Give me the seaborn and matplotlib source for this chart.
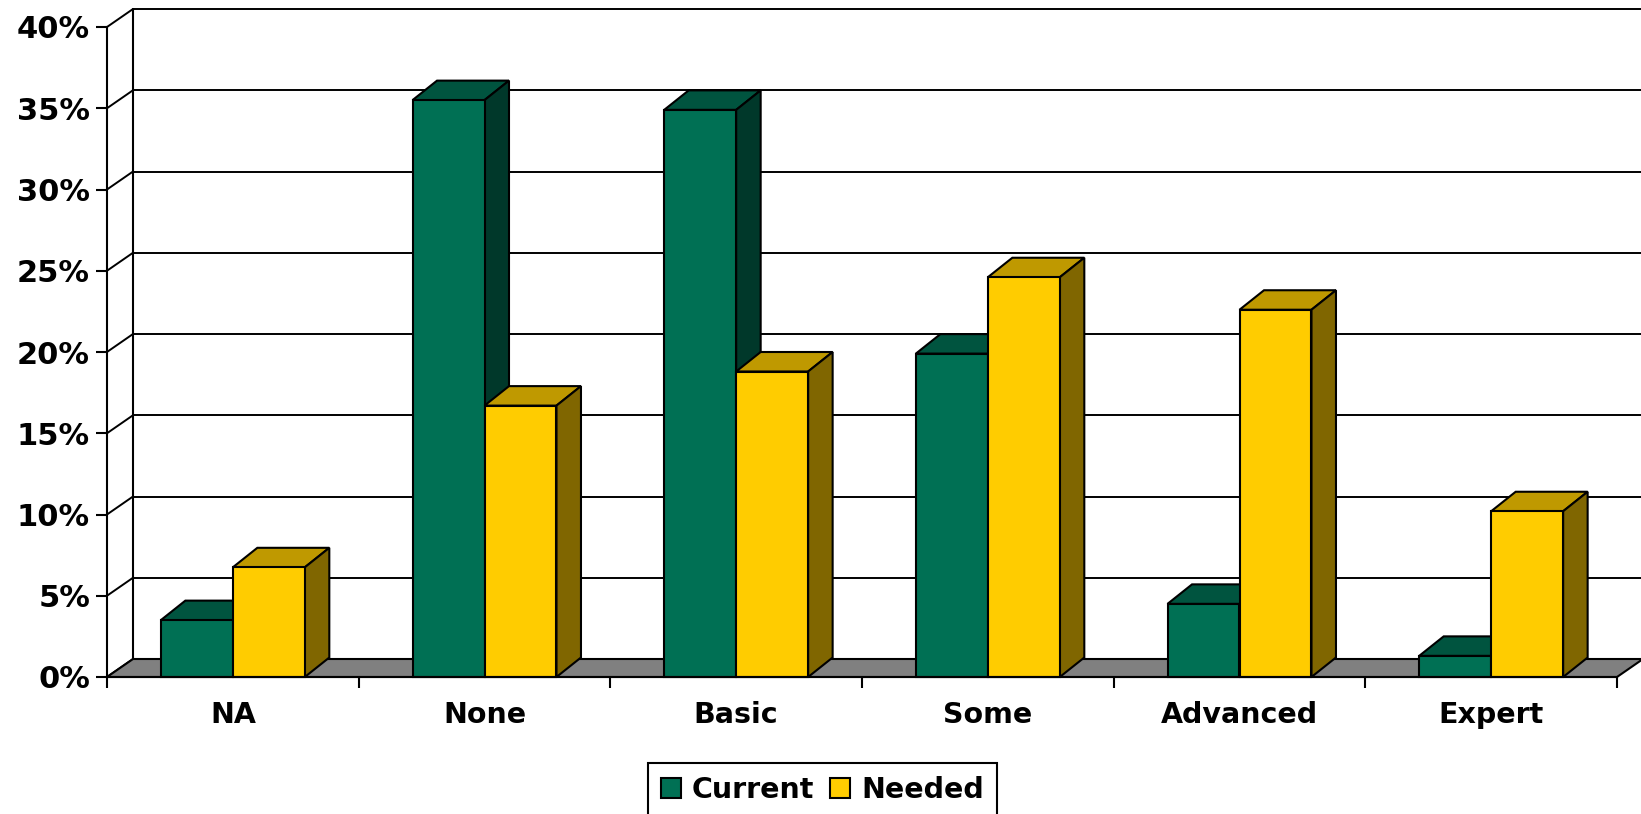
import numpy as np
import pandas as pd
import matplotlib
matplotlib.use("Agg")
import matplotlib.pyplot as plt
from matplotlib.patches import Polygon, Patch
import seaborn as sns

levels = ["NA", "None", "Basic", "Some", "Advanced", "Expert"]
current = [3.5, 35.5, 34.9, 19.9, 4.5, 1.3]
needed = [6.75, 16.7, 18.8, 24.6, 22.6, 10.2]
y_ticks = [0, 5, 10, 15, 20, 25, 30, 35, 40]

W, H = 1641, 814
left, right, base, top = 107, 1617, 677, 27
FRONT = {"Current": "#007054", "Needed": "#FFCC00"}
TOP = {"Current": "#00543F", "Needed": "#BF9900"}
SIDE = {"Current": "#00382A", "Needed": "#806600"}

sns.set_theme(style="white")
plt.rcParams["font.family"] = ["DejaVu Sans"]
plt.rcParams["font.weight"] = "bold"

df = pd.DataFrame({
    "level": levels * 2,
    "share": current + needed,
    "series": ["Current"] * 6 + ["Needed"] * 6,
})

fig = plt.figure(figsize=(W / 100, H / 100), dpi=100, facecolor="white")
ax = fig.add_axes([left / W, 1 - base / H, (right - left) / W, (base - top) / H])

sns.barplot(data=df, x="level", y="share", hue="series", palette=FRONT, order=levels,
            width=0.572, gap=0, saturation=1, edgecolor="black", linewidth=1.5,
            legend=False, ax=ax)
ax.set_xlim(-0.5, 5.5)
ax.set_ylim(0, 40)
ax.set_xlabel("")
ax.set_ylabel("")
ax.patch.set_alpha(0)

# depth of the fake 3d, pixels -> data units
px_x = 6 / (right - left)
px_y = 40 / (base - top)
wall_dx, wall_dy = 26 * px_x, 18 * px_y
bar_dx, bar_dy = 24.5 * px_x, 19.5 * px_y

# walls and gridlines
x0, x1 = -0.5, 5.5
for t in y_ticks:
    ax.plot([x0, x0 + wall_dx], [t, t + wall_dy], color="black", lw=1.4, clip_on=False, zorder=1)
    if t > 0:
        ax.plot([x0 + wall_dx, x1 + wall_dx], [t + wall_dy] * 2, color="black", lw=1.4,
                clip_on=False, zorder=1)
ax.plot([x0 + wall_dx] * 2, [0 + wall_dy, 40 + wall_dy], color="black", lw=1.5, clip_on=False, zorder=1)
ax.add_patch(Polygon([(x0, 0), (x1, 0), (x1 + wall_dx, wall_dy), (x0 + wall_dx, wall_dy)],
                     facecolor="#808080", edgecolor="black", lw=1.5, clip_on=False, zorder=1.5))

# side and top faces of each bar
names = ["Current"] * 6 + ["Needed"] * 6
for bar, name in zip(ax.patches[:12], names):
    bx, bw, bh = bar.get_x(), bar.get_width(), bar.get_height()
    z = 2 if name == "Current" else 3
    bar.set_zorder(z + 0.2)
    bar.set_clip_on(False)
    ax.add_patch(Polygon([(bx, bh), (bx + bw, bh), (bx + bw + bar_dx, bh + bar_dy), (bx + bar_dx, bh + bar_dy)],
                         facecolor=TOP[name], edgecolor="black", lw=1.5, clip_on=False, zorder=z))
    ax.add_patch(Polygon([(bx + bw, 0), (bx + bw + bar_dx, bar_dy), (bx + bw + bar_dx, bh + bar_dy), (bx + bw, bh)],
                         facecolor=SIDE[name], edgecolor="black", lw=1.5, clip_on=False, zorder=z))

# axes
sns.despine(ax=ax, top=True, right=True)
for s in ["left", "bottom"]:
    ax.spines[s].set_linewidth(1.5)
    ax.spines[s].set_color("black")
    ax.spines[s].set_zorder(4)
ax.set_yticks(y_ticks, labels=[f"{t}%" for t in y_ticks])
ax.set_xticks(np.arange(-0.5, 6), labels=[""] * 7)
ax.set_xticks(range(6), labels=levels, minor=True)
ax.tick_params(axis="y", which="major", left=True, length=7.7, width=1.5, color="black", pad=4.5, labelsize=22, labelcolor="black")
ax.tick_params(axis="x", which="major", bottom=True, length=7.7, width=1.5, color="black")
ax.tick_params(axis="x", which="minor", bottom=False, length=0, pad=17, labelsize=20.5, labelcolor="black")

handles = [Patch(facecolor=FRONT[k], edgecolor="black", linewidth=1.5, label=k) for k in ["Current", "Needed"]]
leg = fig.legend(handles=handles, loc="lower center", bbox_to_anchor=(822.5 / W, -3 / H), ncol=2,
                 frameon=True, fancybox=False, framealpha=1, edgecolor="black", fontsize=20.5,
                 handlelength=0.7, handleheight=0.7, handletextpad=0.39, columnspacing=0.56,
                 borderpad=0.45, borderaxespad=0, labelcolor="black")
leg.get_frame().set_linewidth(1.5)

fig.savefig("out.png", dpi=100)
